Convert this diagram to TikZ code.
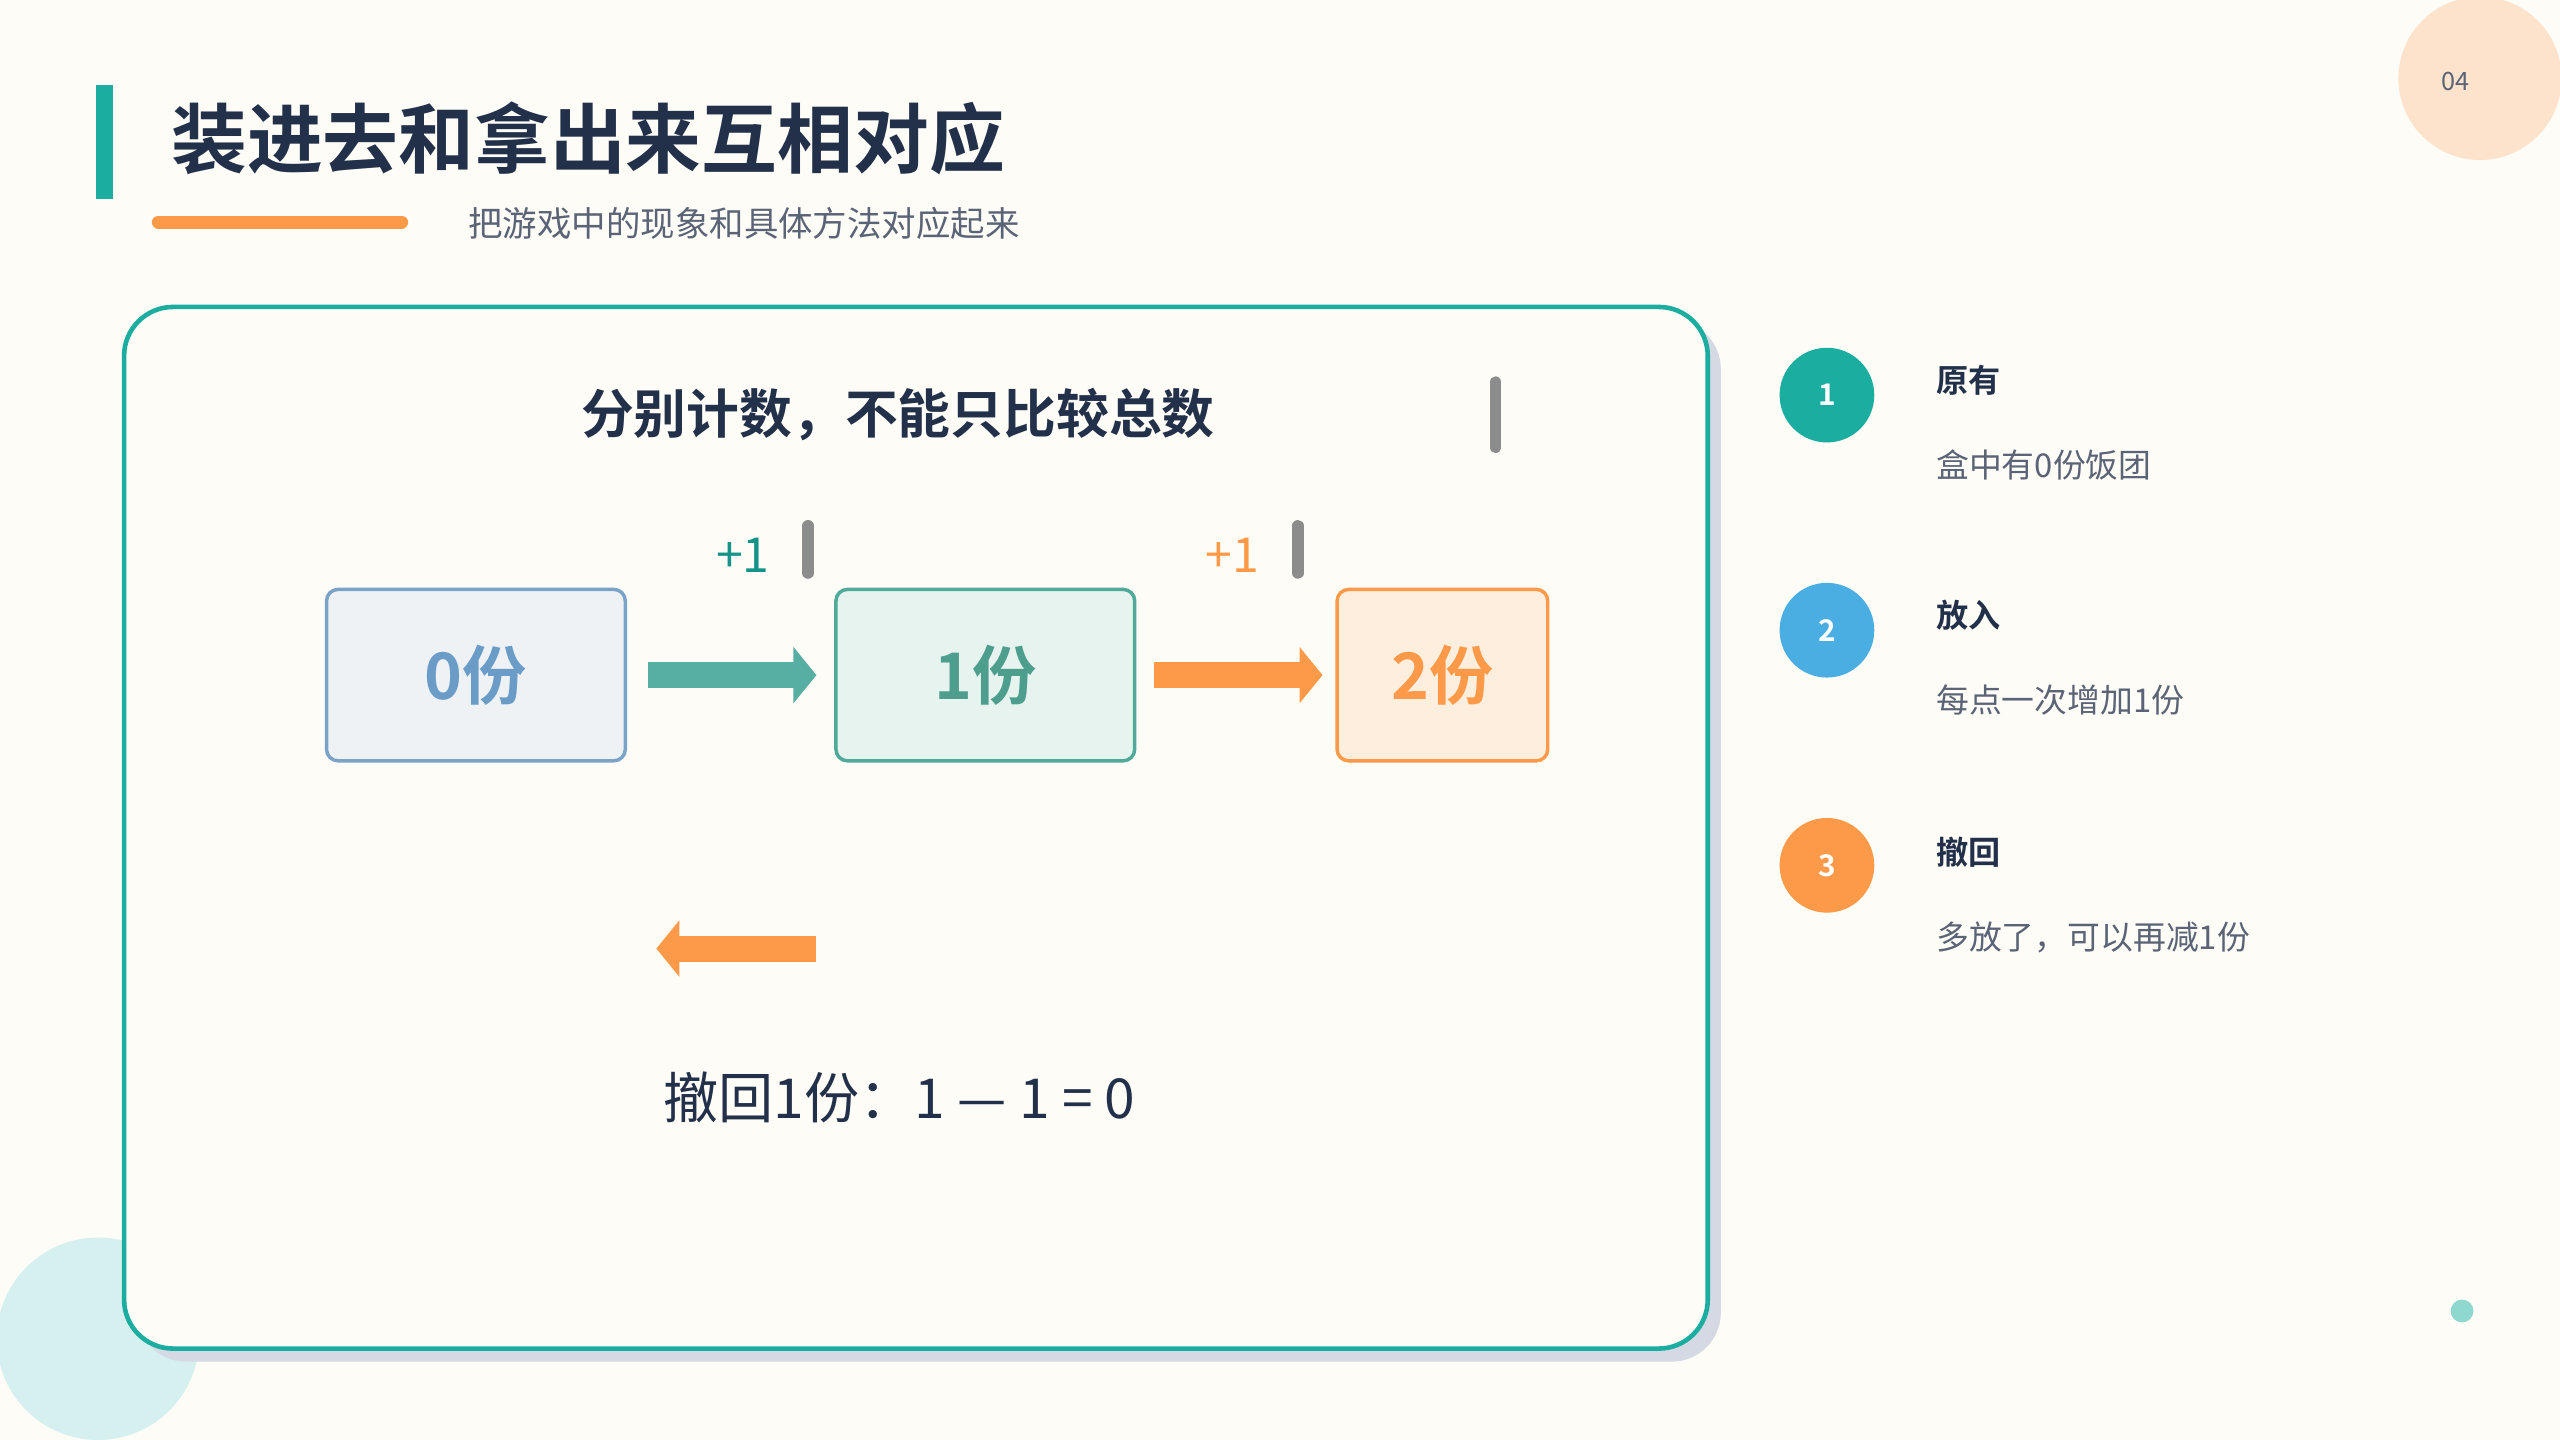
\documentclass[tikz,border=0pt]{standalone}
\usepackage{fontspec}
\setmainfont{Noto Sans CJK SC}[BoldFont={Noto Sans CJK SC Bold}]
\usetikzlibrary{arrows.meta}
\definecolor{bg}{HTML}{FDFCF6}
\definecolor{navy}{HTML}{22304A}
\definecolor{teal}{HTML}{1AADA0}
\definecolor{orng}{HTML}{FD9A4A}
\definecolor{gry}{HTML}{5B6476}
\definecolor{blu}{HTML}{4AAEE3}
\tikzset{
 box/.style={draw,line width=1.5pt,rounded corners=5pt,minimum width=183*0.025cm,minimum height=105*0.025cm,font=\fontsize{28}{30}\selectfont\bfseries},
 fat/.style={line width=16*0.025cm,-{Triangle[length=10pt,width=24pt]}},
 num/.style={circle,minimum size=58*0.025cm,text=white,font=\fontsize{13}{14}\selectfont\bfseries},
 ttl/.style={anchor=west,text=navy,font=\fontsize{14}{16}\selectfont\bfseries},
 dsc/.style={anchor=west,text=gry,font=\fontsize{14.3}{16}\selectfont},
 vbar/.style={line width=7*0.025cm,line cap=round,draw=gray!90},
}
\begin{document}
\begin{tikzpicture}[x=0.025cm,y=-0.025cm]
\useasboundingbox (0,0) rectangle (1568,882);
\fill[bg] (0,0) rectangle (1568,882);
\begin{scope}
\clip (0,0) rectangle (1568,882);
\fill[color={rgb,255:red,253;green,227;blue,204}] (1519,48) circle (50);
\fill[color={rgb,255:red,213;green,240;blue,238}] (60,820) circle (62);
\end{scope}
\node[text=gry,font=\fontsize{11}{12}\selectfont] (pg) at (1504,50) {04};
\fill[color={rgb,255:red,143;green,216;blue,208}] (1508,803) circle (7);
\fill[teal] (59,52) rectangle (69,122);
\node[anchor=west,text=navy,font=\fontsize{33}{36}\selectfont\bfseries] (title) at (100,85) {装进去和拿出来互相对应};
\draw[orng,line width=8*0.025cm,line cap=round] (97,136) -- (246,136);
\node[anchor=west,text=gry,font=\fontsize{15}{17}\selectfont] (sub) at (282,137) {把游戏中的现象和具体方法对应起来};
% card
\fill[color={rgb,255:red,213;green,217;blue,228},rounded corners=30*0.025cm] (84,196) rectangle (1054,834);
\draw[teal,fill=bg,line width=2pt,rounded corners=30*0.025cm] (76,188) rectangle (1046,826);
\node[text=navy,font=\fontsize{23}{25}\selectfont\bfseries] (h) at (550,254) {分别计数，不能只比较总数};
\draw[vbar] (916,234) -- (916,274);
\draw[vbar] (495,322) -- (495,351);
\draw[vbar] (795,322) -- (795,351);
\node[text=teal!85!black,font=\fontsize{21}{22}\selectfont] (p1) at (455,340) {+1};
\node[text=orng,font=\fontsize{21}{22}\selectfont] (p2) at (755,340) {+1};
\node[box,draw={rgb,255:red,123;green,163;blue,200},fill={rgb,255:red,238;green,242;blue,245},text={rgb,255:red,106;green,156;blue,199}] (b0) at (291.5,413.5) {0份};
\node[box,draw={rgb,255:red,79;green,170;blue,154},fill={rgb,255:red,230;green,243;blue,239},text={rgb,255:red,78;green,158;blue,142}] (b1) at (603.5,413.5) {1份};
\node[box,minimum width=129*0.025cm,draw=orng,fill={rgb,255:red,254;green,238;blue,222},text=orng] (b2) at (883.5,413.5) {2份};
\draw[fat,color={rgb,255:red,86;green,175;blue,162}] (b0.east)++(13,0) coordinate (a0) -- ++(103,0) coordinate (a1);
\draw[fat,orng] (b1.east)++(11,0) coordinate (a2) -- ++(103,0) coordinate (a3);
\coordinate (r0) at (500,581); \coordinate (r1) at (402,581);
\draw[fat,orng] (r0) -- (r1);
\node[text=navy,font=\fontsize{24}{26}\selectfont] (eq) at (551,672) {撤回1份：1 — 1 = 0};
% right side
\node[num,fill=teal] (n1) at (1119,242) {1};
\node[num,fill=blu] (n2) at (1119,386) {2};
\node[num,fill=orng] (n3) at (1119,530) {3};
\node[ttl] (t1) at (1181,233) {原有};
\node[dsc] (d1) at (1181,285) {盒中有0份饭团};
\node[ttl] (t2) at (1181,377) {放入};
\node[dsc] (d2) at (1181,429) {每点一次增加1份};
\node[ttl] (t3) at (1181,522) {撤回};
\node[dsc] (d3) at (1181,574) {多放了，可以再减1份};
\end{tikzpicture}
\end{document}
